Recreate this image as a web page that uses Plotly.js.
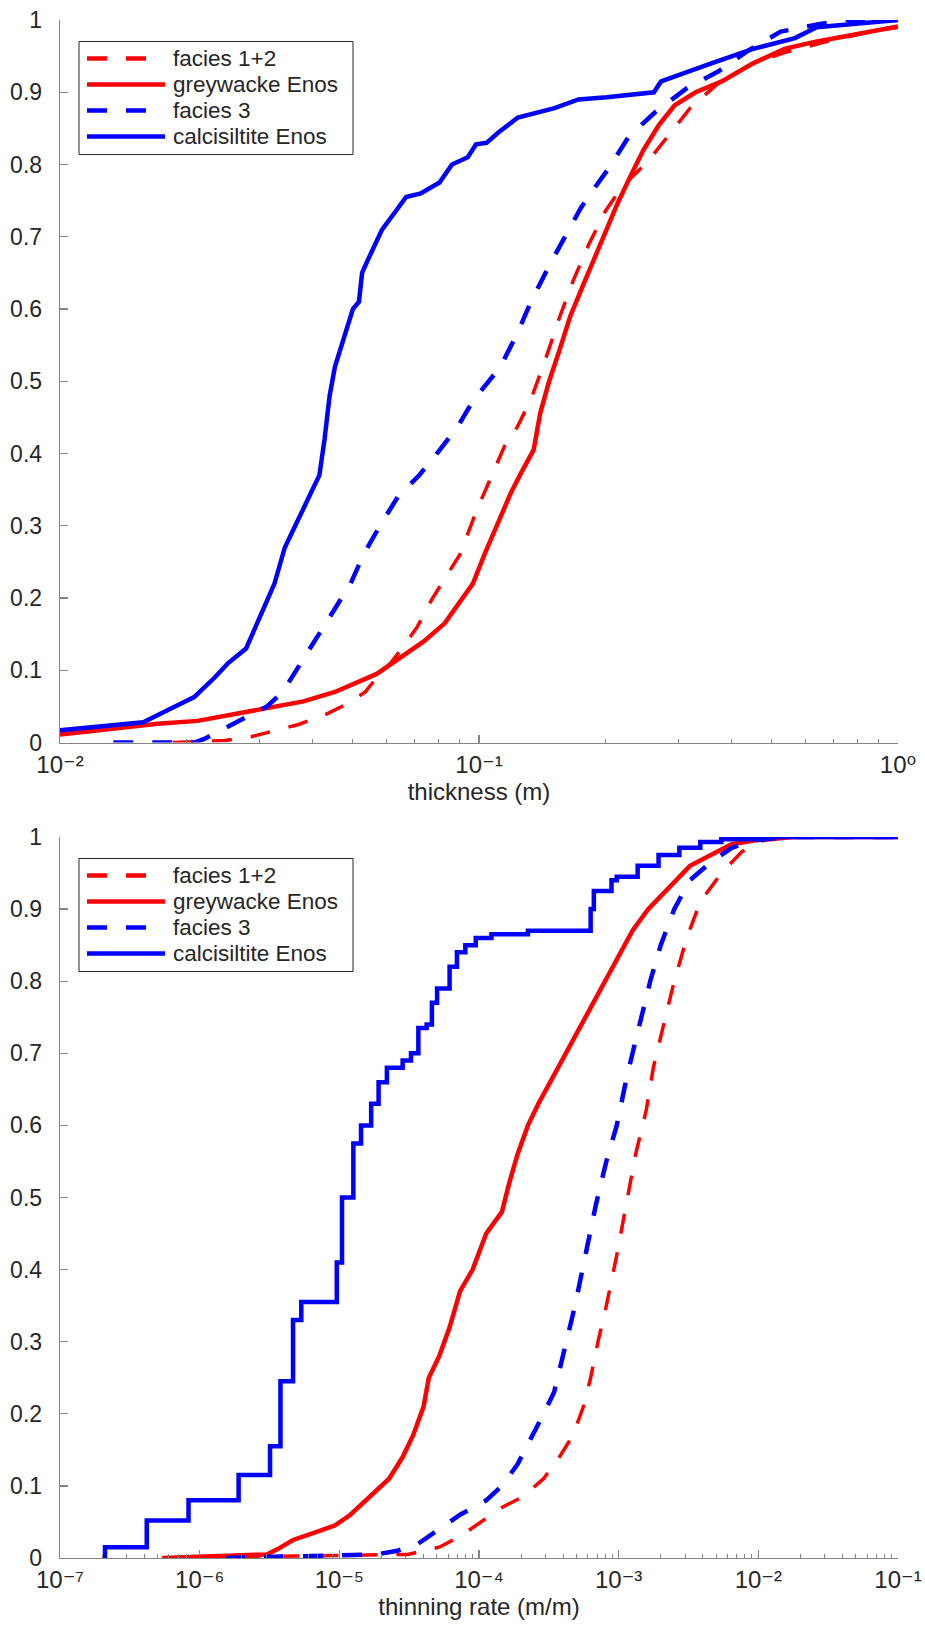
<!DOCTYPE html>
<html><head><meta charset="utf-8">
<script src="https://cdn.plot.ly/plotly-3.0.1.min.js"></script>
<style>html,body{margin:0;padding:0;background:#fff}</style>
</head><body><div id="chart" style="width:925px;height:1638px"></div>
<script>
// ---------- Top panel: thickness (m) ----------
const thkFac12X = [0.0186, 0.0248, 0.0286, 0.0321, 0.0371, 0.0435, 0.0490, 0.0535, 0.0570, 0.0615, 0.0655, 0.0712, 0.0775, 0.0835, 0.0900, 0.0985, 0.1075, 0.1150, 0.1208, 0.1328, 0.1440, 0.1560, 0.1680, 0.1830, 0.2000, 0.2200, 0.2520, 0.2820, 0.3200, 0.3770, 0.4510, 0.5358, 0.6743, 0.8484, 1.0];
const thkFac12Y = [0, 0.003, 0.008, 0.015, 0.025, 0.04, 0.055, 0.07, 0.09, 0.11, 0.13, 0.16, 0.20, 0.23, 0.26, 0.32, 0.37, 0.41, 0.426, 0.474, 0.53, 0.59, 0.64, 0.69, 0.735, 0.77, 0.803, 0.839, 0.879, 0.915, 0.94, 0.955, 0.97, 0.983, 0.99];

const thkGreyX = [0.0100, 0.0128, 0.0171, 0.0213, 0.0303, 0.0381, 0.0453, 0.0523, 0.0570, 0.0640, 0.0738, 0.0828, 0.0903, 0.0967, 0.1030, 0.1120, 0.1190, 0.1265, 0.1350, 0.1400, 0.1470, 0.1550, 0.1651, 0.1778, 0.1961, 0.2137, 0.2303, 0.2468, 0.2689, 0.2931, 0.3289, 0.3796, 0.4510, 0.5358, 0.6367, 0.8012, 1.0];
const thkGreyY = [0.011, 0.018, 0.026, 0.030, 0.046, 0.057, 0.07, 0.085, 0.095, 0.115, 0.14, 0.165, 0.195, 0.22, 0.26, 0.31, 0.345, 0.375, 0.405, 0.456, 0.50, 0.54, 0.59, 0.635, 0.695, 0.745, 0.785, 0.82, 0.855, 0.882, 0.90, 0.915, 0.94, 0.96, 0.97, 0.981, 0.991];

const thkFac3X = [0.0134, 0.0209, 0.0221, 0.0248, 0.0278, 0.0312, 0.0340, 0.0366, 0.0404, 0.0448, 0.0494, 0.0530, 0.0580, 0.0640, 0.0720, 0.0796, 0.0889, 0.0970, 0.1125, 0.1236, 0.1328, 0.1470, 0.1600, 0.1750, 0.1900, 0.2030, 0.2280, 0.2640, 0.3140, 0.3730, 0.4370, 0.5250, 0.6460, 0.7500, 1.0];
const thkFac3Y = [0, 0, 0.005, 0.02, 0.035, 0.05, 0.07, 0.10, 0.14, 0.18, 0.22, 0.26, 0.30, 0.34, 0.37, 0.401, 0.437, 0.474, 0.52, 0.567, 0.609, 0.66, 0.70, 0.74, 0.77, 0.793, 0.839, 0.873, 0.906, 0.929, 0.957, 0.984, 0.994, 1.0, 1.0];

const thkCalcX = [0.0100, 0.0158, 0.0181, 0.0209, 0.0234, 0.0252, 0.0278, 0.0303, 0.0325, 0.0344, 0.0371, 0.0399, 0.0416, 0.0428, 0.0440, 0.0453, 0.0480, 0.0500, 0.0517, 0.0526, 0.0545, 0.0587, 0.0632, 0.0670, 0.0726, 0.0805, 0.0862, 0.0940, 0.0984, 0.1042, 0.1116, 0.1238, 0.1514, 0.1728, 0.2018, 0.2614, 0.2720, 0.3017, 0.3585, 0.4510, 0.5675, 0.6400, 0.8484, 0.9517, 1.0];
const thkCalcY = [0.017, 0.028, 0.045, 0.063, 0.09, 0.11, 0.13, 0.18, 0.22, 0.27, 0.31, 0.35, 0.37, 0.42, 0.48, 0.52, 0.57, 0.60, 0.61, 0.65, 0.67, 0.71, 0.735, 0.755, 0.76, 0.775, 0.80, 0.81, 0.828, 0.83, 0.845, 0.865, 0.878, 0.89, 0.893, 0.90, 0.915, 0.925, 0.94, 0.96, 0.975, 0.99, 0.997, 1.0, 1.0];

// ---------- Bottom panel: thinning rate (m/m) ----------
const thnFac12X = [5.41e-7, 3.09e-5, 5.19e-5, 7.32e-5, 1.033e-4, 1.458e-4, 2.06e-4, 2.90e-4, 3.76e-4, 4.70e-4, 5.59e-4, 6.30e-4, 7.11e-4, 8.16e-4, 9.69e-4, 1.151e-3, 1.322e-3, 1.571e-3, 1.771e-3, 2.10e-3, 2.50e-3, 3.07e-3, 3.84e-3, 5.43e-3, 7.66e-3, 1.081e-2, 1.81e-2, 0.1];
const thnFac12Y = [0, 0.005, 0.015, 0.03, 0.05, 0.07, 0.085, 0.11, 0.14, 0.17, 0.21, 0.25, 0.30, 0.35, 0.42, 0.50, 0.56, 0.62, 0.68, 0.74, 0.80, 0.86, 0.91, 0.95, 0.98, 0.995, 1.0, 1.0];

const thnGreyX = [5.41e-7, 3.03e-6, 3.59e-6, 4.66e-6, 6.57e-6, 9.27e-6, 1.20e-5, 1.55e-5, 1.85e-5, 2.27e-5, 2.84e-5, 3.37e-5, 4.01e-5, 4.37e-5, 5.19e-5, 6.16e-5, 7.32e-5, 9.00e-5, 1.126e-4, 1.458e-4, 1.645e-4, 1.888e-4, 2.24e-4, 2.66e-4, 3.45e-4, 4.47e-4, 5.78e-4, 7.49e-4, 9.69e-4, 1.255e-3, 1.626e-3, 2.29e-3, 3.24e-3, 4.57e-3, 6.45e-3, 1.081e-2, 1.81e-2, 0.1];
const thnGreyY = [0, 0.005, 0.012, 0.025, 0.035, 0.045, 0.06, 0.08, 0.095, 0.11, 0.14, 0.17, 0.21, 0.25, 0.28, 0.32, 0.37, 0.40, 0.45, 0.48, 0.52, 0.56, 0.60, 0.63, 0.67, 0.71, 0.75, 0.79, 0.83, 0.87, 0.90, 0.93, 0.96, 0.975, 0.99, 0.997, 1.0, 1.0];

const thnFac3X = [1.52e-6, 1.85e-5, 2.61e-5, 3.68e-5, 5.19e-5, 7.32e-5, 1.126e-4, 1.458e-4, 1.888e-4, 2.44e-4, 2.90e-4, 3.45e-4, 4.10e-4, 4.87e-4, 5.78e-4, 6.87e-4, 8.16e-4, 9.69e-4, 1.151e-3, 1.416e-3, 1.683e-3, 2.00e-3, 2.50e-3, 3.24e-3, 4.57e-3, 6.45e-3, 9.10e-3, 1.525e-2, 0.1];
const thnFac3Y = [0, 0.005, 0.01, 0.02, 0.04, 0.06, 0.08, 0.10, 0.13, 0.17, 0.20, 0.23, 0.29, 0.35, 0.42, 0.49, 0.55, 0.60, 0.67, 0.74, 0.80, 0.85, 0.90, 0.94, 0.965, 0.985, 0.995, 1.0, 1.0];

const thnCalcX = [2.10e-7, 2.10e-7, 4.18e-7, 8.32e-7, 1.90e-6, 3.19e-6, 3.79e-6, 4.66e-6, 5.34e-6, 9.59e-6, 1.045e-5, 1.26e-5, 1.43e-5, 1.69e-5, 1.91e-5, 2.19e-5, 2.84e-5, 3.26e-5, 3.68e-5, 4.22e-5, 4.60e-5, 5.01e-5, 6.16e-5, 6.95e-5, 7.98e-5, 9.48e-5, 1.228e-4, 2.24e-4, 6.30e-4, 6.64e-4, 8.89e-4, 9.69e-4, 1.368e-3, 1.93e-3, 2.72e-3, 3.84e-3, 5.43e-3, 1.081e-2, 2.15e-2, 0.1];
const thnCalcY = [0, 0.015, 0.052, 0.08, 0.115, 0.155, 0.245, 0.33, 0.355, 0.41, 0.50, 0.575, 0.60, 0.63, 0.66, 0.68, 0.69, 0.70, 0.735, 0.74, 0.77, 0.79, 0.82, 0.84, 0.85, 0.86, 0.865, 0.87, 0.90, 0.925, 0.94, 0.945, 0.96, 0.975, 0.985, 0.993, 0.997, 1.0, 1.0, 1.0];

const seriesNames = ['facies 1+2', 'greywacke Enos', 'facies 3', 'calcisiltite Enos'];
const topXTicks = [0.01, 0.1, 1];
const topXText = ['10⁻²', '10⁻¹', '10⁰'];
const botXTicks = [1e-7, 1e-6, 1e-5, 1e-4, 1e-3, 1e-2, 1e-1];
const botXText = ['10⁻⁷', '10⁻⁶', '10⁻⁵', '10⁻⁴', '10⁻³', '10⁻²', '10⁻¹'];

// ---------- styling ----------
const RED = '#ff0000', BLUE = '#0000ff';
const FONT = 'Liberation Sans, Arial, Helvetica, sans-serif';
const TICKFONT = 'Liberation Sans, DejaVu Sans, Arial, sans-serif';
const TXT = '#262626', AX = '#858585';
const DASH = '20px,19px';
const seriesColors = [RED, RED, BLUE, BLUE];
const seriesDash = [DASH, 'solid', DASH, 'solid'];
const seriesWidth = [3.5, 4.5, 4.5, 4.5];

function minorVals(lo, hi) {
  const v = [];
  for (let e = lo; e < hi; e++) for (let k = 2; k <= 9; k++) v.push(k * Math.pow(10, e));
  return v;
}

function mk(x, y, i, xa, ya, shape) {
  return {x: x, y: y, name: seriesNames[i], type: 'scatter', mode: 'lines',
    line: {color: seriesColors[i], width: seriesWidth[i], dash: seriesDash[i], shape: shape || 'linear'},
    xaxis: xa, yaxis: ya, showlegend: false, hoverinfo: 'skip'};
}

const data = [
  mk(thkFac12X, thkFac12Y, 0, 'x', 'y'),
  mk(thkGreyX, thkGreyY, 1, 'x', 'y'),
  mk(thkFac3X, thkFac3Y, 2, 'x', 'y'),
  mk(thkCalcX, thkCalcY, 3, 'x', 'y'),
  mk(thnFac12X, thnFac12Y, 0, 'x2', 'y2'),
  mk(thnGreyX, thnGreyY, 1, 'x2', 'y2'),
  mk(thnFac3X, thnFac3Y, 2, 'x2', 'y2'),
  mk(thnCalcX, thnCalcY, 3, 'x2', 'y2', 'hv')
];

const axBase = {
  showline: true, linecolor: AX, linewidth: 1.3, mirror: false,
  ticks: 'inside', ticklen: 8, tickwidth: 1.3, tickcolor: AX,
  showgrid: false, zeroline: false, fixedrange: true,
  tickfont: {family: TICKFONT, size: 23, color: TXT}
};
function xAx(range, tv, tt, title, anchor, lo, hi) {
  return Object.assign({}, axBase, {
    type: 'log', range: range, anchor: anchor, domain: [0, 1],
    tickmode: 'array', tickvals: tv, ticktext: tt, ticklabelstandoff: 0,
    tickfont: {family: TICKFONT, size: 24, color: TXT},
    minor: {tickmode: 'array', tickvals: minorVals(lo, hi), ticks: 'inside', ticklen: 4, tickwidth: 1, tickcolor: AX, showgrid: false},
    title: {text: title, font: {family: FONT, size: 24, color: TXT}, standoff: 0}
  });
}
function yAx(domain, anchor) {
  return Object.assign({}, axBase, {
    range: [0, 1], domain: domain, anchor: anchor,
    tickmode: 'linear', tick0: 0, dtick: 0.1, ticklabelstandoff: 12
  });
}

// ---------- legend boxes (drawn in each subplot's domain coordinates) ----------
const PLOT_W = 838;
const panels = [{xr: 'x domain', yr: 'y domain', h: 722.3}, {xr: 'x2 domain', yr: 'y2 domain', h: 721}];
const shapes = [], annotations = [];
panels.forEach(function (p) {
  const fx = function (px) { return px / PLOT_W; };
  const fy = function (py) { return 1 - py / p.h; };
  shapes.push({type: 'rect', xref: p.xr, yref: p.yr, x0: fx(19), x1: fx(293), y0: fy(134.5), y1: fy(21.5),
    line: {color: TXT, width: 1}, fillcolor: '#ffffff', layer: 'above'});
  seriesNames.forEach(function (name, i) {
    const yc = fy(21.5 + 17 + 26 * i);
    shapes.push({type: 'line', xref: p.xr, yref: p.yr, x0: fx(27), x1: fx(105), y0: yc, y1: yc,
      line: {color: seriesColors[i], width: 4.5, dash: seriesDash[i]}, layer: 'above'});
    annotations.push({xref: p.xr, yref: p.yr, x: fx(111), y: yc, xanchor: 'left', yanchor: 'middle',
      text: name, showarrow: false, font: {family: FONT, size: 22.5, color: TXT}});
  });
});

const layout = {
  width: 925, height: 1638,
  margin: {l: 60, r: 27, t: 20, b: 80},
  paper_bgcolor: '#ffffff', plot_bgcolor: '#ffffff',
  showlegend: false,
  xaxis: xAx([-2, 0], topXTicks, topXText, 'thickness (m)', 'y', -2, 0),
  yaxis: yAx([0.5302, 1], 'x'),
  xaxis2: xAx([-7, -1], botXTicks, botXText, 'thinning rate (m/m)', 'y2', -7, -1),
  yaxis2: yAx([0, 0.4688], 'x2'),
  shapes: shapes,
  annotations: annotations
};

Plotly.newPlot('chart', data, layout, {staticPlot: true, displayModeBar: false});
</script>
</body></html>
